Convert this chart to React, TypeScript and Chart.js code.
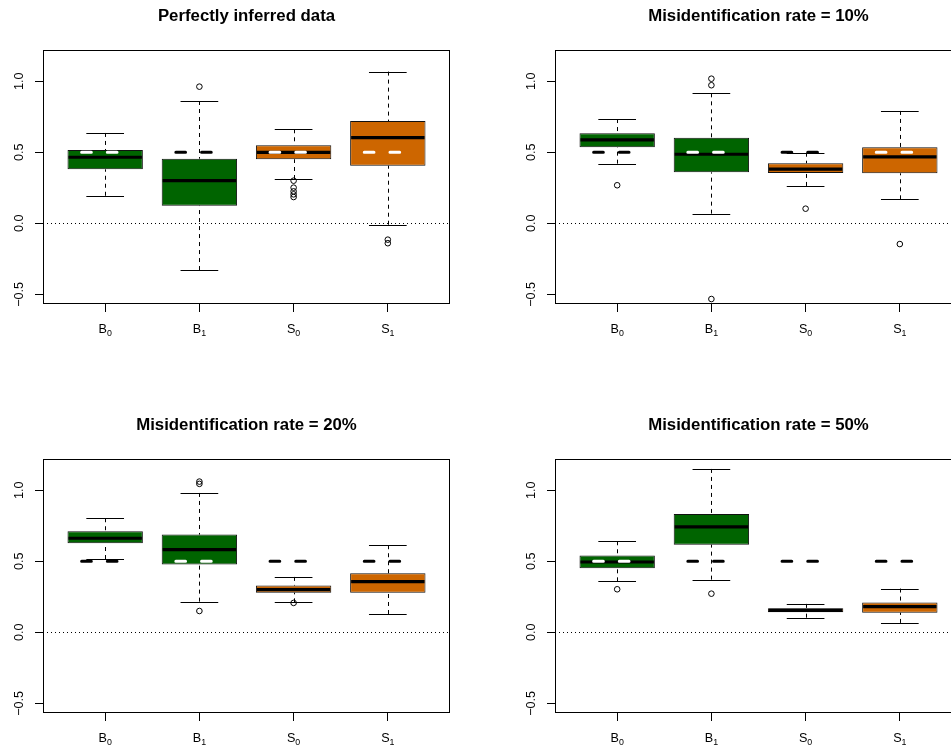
import React, { useEffect, useRef } from 'react';
import { Chart, registerables } from 'chart.js';

Chart.register(...registerables);

const FONT = "'Liberation Sans', Arial, Helvetica, sans-serif";

const categoryBases = ['B', 'B', 'S', 'S'];
const categorySubscripts = ['0', '1', '0', '1'];
const categoryPositions = [1, 2, 3, 4];
const trueValues = [0.5, 0.5, 0.5, 0.5];
const yTickValues = [-0.5, 0, 0.5, 1.0];
const panelTitles = [
  'Perfectly inferred data',
  'Misidentification rate = 10%',
  'Misidentification rate = 20%',
  'Misidentification rate = 50%',
];

// five-number summaries: [lower whisker, Q1, median, Q3, upper whisker]
const perfectStats = [
  [0.194, 0.380, 0.465, 0.516, 0.636],
  [-0.329, 0.124, 0.300, 0.455, 0.861],
  [0.312, 0.451, 0.500, 0.549, 0.662],
  [-0.010, 0.406, 0.603, 0.720, 1.068],
];
const perfectOutliers = [[], [0.962], [0.300, 0.251, 0.225, 0.204, 0.185], [-0.115, -0.140]];

const rate10Stats = [
  [0.420, 0.535, 0.587, 0.634, 0.734],
  [0.068, 0.359, 0.486, 0.603, 0.915],
  [0.263, 0.354, 0.382, 0.423, 0.497],
  [0.169, 0.352, 0.467, 0.535, 0.791],
];
const rate10Outliers = [[0.268], [1.018, 0.972, -0.533], [0.103], [-0.146]];

const rate20Stats = [
  [0.516, 0.627, 0.662, 0.711, 0.803],
  [0.216, 0.477, 0.582, 0.688, 0.981],
  [0.211, 0.279, 0.300, 0.329, 0.390],
  [0.129, 0.279, 0.357, 0.415, 0.613],
];
const rate20Outliers = [[], [1.061, 1.045, 0.150], [0.207], []];

const rate50Stats = [
  [0.359, 0.451, 0.495, 0.540, 0.641],
  [0.371, 0.617, 0.742, 0.833, 1.150],
  [0.103, 0.141, 0.155, 0.169, 0.200],
  [0.066, 0.138, 0.181, 0.209, 0.308],
];
const rate50Outliers = [[0.303], [0.272], [], []];

const GREEN = '#006400';
const ORANGE = '#CD6600';
const TICK_SIZE = 12.6;

const fmtTick = (v: number) => (v < 0 ? '\u2212' + Math.abs(v).toFixed(1) : v.toFixed(1));

function makeBoxPlugin(stats: number[][], truth: number[]) {
  return {
    id: 'boxExtras',
    beforeDatasetsDraw(chart: any) {
      const { ctx, chartArea, scales } = chart;
      const x = scales.x;
      const y = scales.y;
      ctx.save();
      ctx.beginPath();
      ctx.rect(chartArea.left, chartArea.top, chartArea.right - chartArea.left, chartArea.bottom - chartArea.top);
      ctx.clip();
      ctx.strokeStyle = '#000';
      ctx.lineWidth = 1;
      stats.forEach((s, i) => {
        const pos = categoryPositions[i];
        const cx = Math.round(x.getPixelForValue(pos)) + 0.5;
        const capL = x.getPixelForValue(pos - 0.2);
        const capR = x.getPixelForValue(pos + 0.2);
        ctx.setLineDash([4, 4]);
        ctx.beginPath();
        ctx.moveTo(cx, y.getPixelForValue(s[0]));
        ctx.lineTo(cx, y.getPixelForValue(s[1]));
        ctx.moveTo(cx, y.getPixelForValue(s[4]));
        ctx.lineTo(cx, y.getPixelForValue(s[3]));
        ctx.stroke();
        ctx.setLineDash([]);
        ctx.beginPath();
        [s[0], s[4]].forEach((v) => {
          const py = Math.round(y.getPixelForValue(v)) + 0.5;
          ctx.moveTo(capL, py);
          ctx.lineTo(capR, py);
        });
        ctx.stroke();
      });
      ctx.restore();
    },
    afterDatasetsDraw(chart: any) {
      const { ctx, chartArea, scales } = chart;
      const x = scales.x;
      const y = scales.y;
      ctx.save();
      ctx.beginPath();
      ctx.rect(chartArea.left, chartArea.top, chartArea.right - chartArea.left, chartArea.bottom - chartArea.top);
      ctx.clip();
      stats.forEach((s, i) => {
        const pos = categoryPositions[i];
        const l = x.getPixelForValue(pos - 0.4);
        const r = x.getPixelForValue(pos + 0.4);
        const py = y.getPixelForValue(s[2]);
        ctx.setLineDash([]);
        ctx.lineCap = 'butt';
        ctx.lineWidth = 3.2;
        ctx.strokeStyle = '#000';
        ctx.beginPath();
        ctx.moveTo(l + 1, py);
        ctx.lineTo(r - 1, py);
        ctx.stroke();
      });
      const y0 = Math.round(y.getPixelForValue(0)) + 0.5;
      ctx.lineWidth = 1;
      ctx.lineCap = 'butt';
      ctx.setLineDash([1, 3]);
      ctx.strokeStyle = '#000';
      ctx.beginPath();
      ctx.moveTo(chartArea.left, y0);
      ctx.lineTo(chartArea.right, y0);
      ctx.stroke();
      stats.forEach((s, i) => {
        const pos = categoryPositions[i];
        const t = truth[i];
        const inside = t >= s[1] && t <= s[3];
        const l = x.getPixelForValue(pos - 0.25);
        const r = x.getPixelForValue(pos + 0.25);
        const py = y.getPixelForValue(t);
        ctx.strokeStyle = inside ? '#fff' : '#000';
        ctx.lineWidth = 3;
        ctx.lineCap = 'round';
        ctx.setLineDash([9.7, 16]);
        ctx.beginPath();
        ctx.moveTo(l, py);
        ctx.lineTo(r, py);
        ctx.stroke();
      });
      ctx.restore();
    },
    afterDraw(chart: any) {
      const { ctx, chartArea, scales } = chart;
      ctx.save();
      ctx.strokeStyle = '#000';
      ctx.lineWidth = 1;
      ctx.setLineDash([]);
      const l = Math.round(chartArea.left) + 0.5;
      const t = Math.round(chartArea.top) - 0.5;
      const r = Math.round(chartArea.right) - 0.5;
      const b = Math.round(chartArea.bottom) - 0.5;
      ctx.strokeRect(l, t, r - l, b - t);
      // category labels with subscripts, at the x scale's tick positions
      const x = scales.x;
      const baseY = chartArea.bottom + 29.4;
      ctx.fillStyle = '#000';
      ctx.textBaseline = 'alphabetic';
      ctx.textAlign = 'left';
      x.ticks.forEach((tk: any, i: number) => {
        const cx = x.getPixelForTick(i);
        const base = categoryBases[i];
        const sub = categorySubscripts[i];
        ctx.font = `${TICK_SIZE}px ${FONT}`;
        const wb = ctx.measureText(base).width;
        ctx.font = `${TICK_SIZE * 0.7}px ${FONT}`;
        const ws = ctx.measureText(sub).width;
        const start = cx - (wb + ws) / 2;
        ctx.font = `${TICK_SIZE}px ${FONT}`;
        ctx.fillText(base, start, baseY);
        ctx.font = `${TICK_SIZE * 0.7}px ${FONT}`;
        ctx.fillText(sub, start + wb, baseY + 2.5);
      });
      ctx.restore();
    },
  };
}

function BoxPanel({ title, stats, outliers }: { title: string; stats: number[][]; outliers: number[][] }) {
  const ref = useRef<HTMLCanvasElement>(null);
  useEffect(() => {
    const canvas = ref.current;
    if (!canvas) return;
    const colors = categoryBases.map((c) => (c === 'B' ? GREEN : ORANGE));
    const tickFont = { family: FONT, size: TICK_SIZE };
    const chart = new Chart(canvas, {
      type: 'bar',
      data: {
        datasets: [
          {
            type: 'scatter',
            data: outliers.flatMap((arr, i) => arr.map((v) => ({ x: categoryPositions[i], y: v }))),
            pointStyle: 'circle',
            pointRadius: 2.8,
            pointHoverRadius: 2.8,
            borderColor: '#000',
            backgroundColor: 'rgba(0,0,0,0)',
            borderWidth: 1,
            order: 1,
          } as any,
          {
            type: 'bar',
            data: stats.map((s, i) => ({ x: categoryPositions[i], y: [s[1], s[3]] })),
            backgroundColor: colors,
            borderColor: '#111',
            borderWidth: 1,
            borderSkipped: false,
            categoryPercentage: 1,
            barPercentage: 0.8,
            order: 2,
          } as any,
        ],
      },
      options: {
        responsive: false,
        animation: false,
        devicePixelRatio: 1,
        events: [],
        layout: { padding: { left: 0, right: 62, top: 0, bottom: 0 } },
        plugins: {
          legend: { display: false },
          tooltip: { enabled: false },
          title: {
            display: true,
            text: title,
            fullSize: false,
            color: '#000',
            font: { family: FONT, size: 16.8, weight: 'bold', lineHeight: '20px' },
            padding: { top: 6, bottom: 25 },
          },
        },
        scales: {
          x: {
            type: 'linear',
            min: 0.34,
            max: 4.66,
            bounds: 'data',
            offset: false,
            afterBuildTicks: (s: any) => {
              s.ticks = categoryPositions.map((v) => ({ value: v }));
            },
            afterFit: (s: any) => {
              s.height = 105;
            },
            ticks: {
              display: false,
              callback: (_v: any, i: number) => categoryBases[i] + categorySubscripts[i],
              autoSkip: false,
              minRotation: 0,
              maxRotation: 0,
            },
            grid: {
              display: true,
              offset: false,
              drawOnChartArea: false,
              drawTicks: true,
              tickLength: 8,
              tickColor: '#000',
              tickWidth: 1,
            },
            border: { display: false },
          },
          y: {
            type: 'linear',
            min: -0.568,
            max: 1.213,
            bounds: 'data',
            afterBuildTicks: (s: any) => {
              s.ticks = yTickValues.map((v) => ({ value: v }));
            },
            afterFit: (s: any) => {
              s.width = 43;
            },
            ticks: {
              callback: (v: any) => fmtTick(Number(v)),
              color: '#000',
              font: tickFont,
              padding: 3,
              minRotation: 90,
              maxRotation: 90,
              crossAlign: 'center',
            },
            grid: {
              display: true,
              offset: false,
              drawOnChartArea: false,
              drawTicks: true,
              tickLength: 8,
              tickColor: '#000',
              tickWidth: 1,
            },
            border: { display: false },
          },
        },
      } as any,
      plugins: [makeBoxPlugin(stats, trueValues) as any],
    });
    return () => chart.destroy();
  }, [title, stats, outliers]);
  return <canvas ref={ref} width={512} height={409} style={{ display: 'block', width: 512, height: 409 }} />;
}

const panels = [
  { title: panelTitles[0], stats: perfectStats, outliers: perfectOutliers, left: 0, top: 0 },
  { title: panelTitles[1], stats: rate10Stats, outliers: rate10Outliers, left: 512, top: 0 },
  { title: panelTitles[2], stats: rate20Stats, outliers: rate20Outliers, left: 0, top: 409 },
  { title: panelTitles[3], stats: rate50Stats, outliers: rate50Outliers, left: 512, top: 409 },
];

export default function App() {
  return (
    <div
      style={{
        position: 'absolute',
        left: 0,
        top: 0,
        width: 951,
        height: 749,
        overflow: 'hidden',
        background: '#fff',
      }}
    >
      {panels.map((p) => (
        <div key={p.title} style={{ position: 'absolute', left: p.left, top: p.top, width: 512, height: 409 }}>
          <BoxPanel title={p.title} stats={p.stats} outliers={p.outliers} />
        </div>
      ))}
    </div>
  );
}
